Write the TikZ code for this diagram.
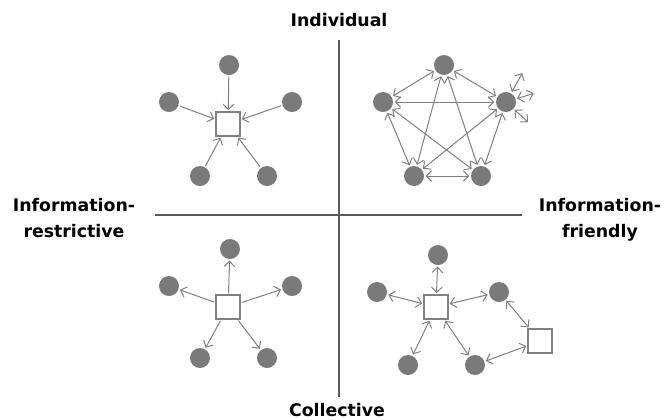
\documentclass[tikz,border=0pt]{standalone}
\usepackage{fontspec}
\setmainfont{DejaVu Sans}
\usetikzlibrary{arrows.meta}

\definecolor{linegray}{RGB}{128,128,128}
\definecolor{dotgray}{RGB}{122,122,122}

\tikzset{
  agent/.style={circle, fill=dotgray, inner sep=0pt, minimum size=15pt},
  store/.style={rectangle, draw=linegray, fill=white, line width=0.8pt,
    inner sep=0pt, minimum size=18pt},
  flow/.style={draw=linegray, line width=0.75pt, shorten >=1pt, shorten <=1pt},
  axis/.style={draw=linegray!70!black, line width=0.8pt},
  axislabel/.style={font=\fontsize{13}{19.5}\selectfont\bfseries, align=center,
    inner sep=0pt}
}

\begin{document}
\begin{tikzpicture}[x=0.75pt, y=-0.75pt,
    >={Straight Barb[length=4pt,width=8pt]}]

    \useasboundingbox (0,0) rectangle (664,419);

    % axes
    \coordinate (ytop) at (339,40);
    \coordinate (ybot) at (339,397);
    \coordinate (xleft) at (155,215);
    \coordinate (xright) at (522,215);
    \draw[axis] (ytop) -- (ybot);
    \draw[axis] (xleft) -- (xright);

    \node[axislabel, anchor=base] (indiv) at (339,26) {Individual};
    \node[axislabel, anchor=base] (coll) at (337,416) {Collective};
    \node[axislabel, anchor=base] (restr) at (74,237) {Information-\\restrictive};
    \node[axislabel, anchor=base] (friend) at (600,237) {Information-\\friendly};

    % individual, restrictive
    \node[store] (tlS) at (228,124) {};
    \node[agent] (tlA) at (229,65) {};
    \node[agent] (tlB) at (169,102) {};
    \node[agent] (tlC) at (292,102) {};
    \node[agent] (tlD) at (200,176) {};
    \node[agent] (tlE) at (267,176) {};
    \foreach \a in {tlA,tlB,tlC,tlD,tlE}
      \draw[flow, ->] (\a) -- (tlS);

    % individual, friendly
    \node[agent] (trA) at (444,65) {};
    \node[agent] (trB) at (383,102) {};
    \node[agent] (trC) at (506,102) {};
    \node[agent] (trD) at (414,176) {};
    \node[agent] (trE) at (481,176) {};
    \foreach \a/\b in {trA/trB,trA/trC,trA/trD,trA/trE,trB/trC,
                       trB/trD,trB/trE,trC/trD,trC/trE,trD/trE}
      \draw[flow, <->] (\a) -- (\b);
    \coordinate (trX) at (523,72);
    \coordinate (trY) at (535,93);
    \coordinate (trZ) at (529,123);
    \foreach \c in {trX,trY,trZ}
      \draw[flow, <->] (trC) -- (\c);

    % collective, restrictive
    \node[store] (blS) at (228,307) {};
    \node[agent] (blA) at (230,249) {};
    \node[agent] (blB) at (169,286) {};
    \node[agent] (blC) at (292,286) {};
    \node[agent] (blD) at (200,358) {};
    \node[agent] (blE) at (267,358) {};
    \foreach \a in {blA,blB,blC,blD,blE}
      \draw[flow, ->] (blS) -- (\a);

    % collective, friendly
    \node[store] (brS) at (436,307) {};
    \node[store] (brT) at (540,341) {};
    \node[agent] (brA) at (438,255) {};
    \node[agent] (brB) at (377,292) {};
    \node[agent] (brC) at (499,292) {};
    \node[agent] (brD) at (408,365) {};
    \node[agent] (brE) at (475,365) {};
    \foreach \a in {brA,brB,brC,brD,brE}
      \draw[flow, <->] (brS) -- (\a);
    \draw[flow, <->] (brC) -- (brT);
    \draw[flow, <->] (brT) -- (brE);

\end{tikzpicture}
\end{document}
